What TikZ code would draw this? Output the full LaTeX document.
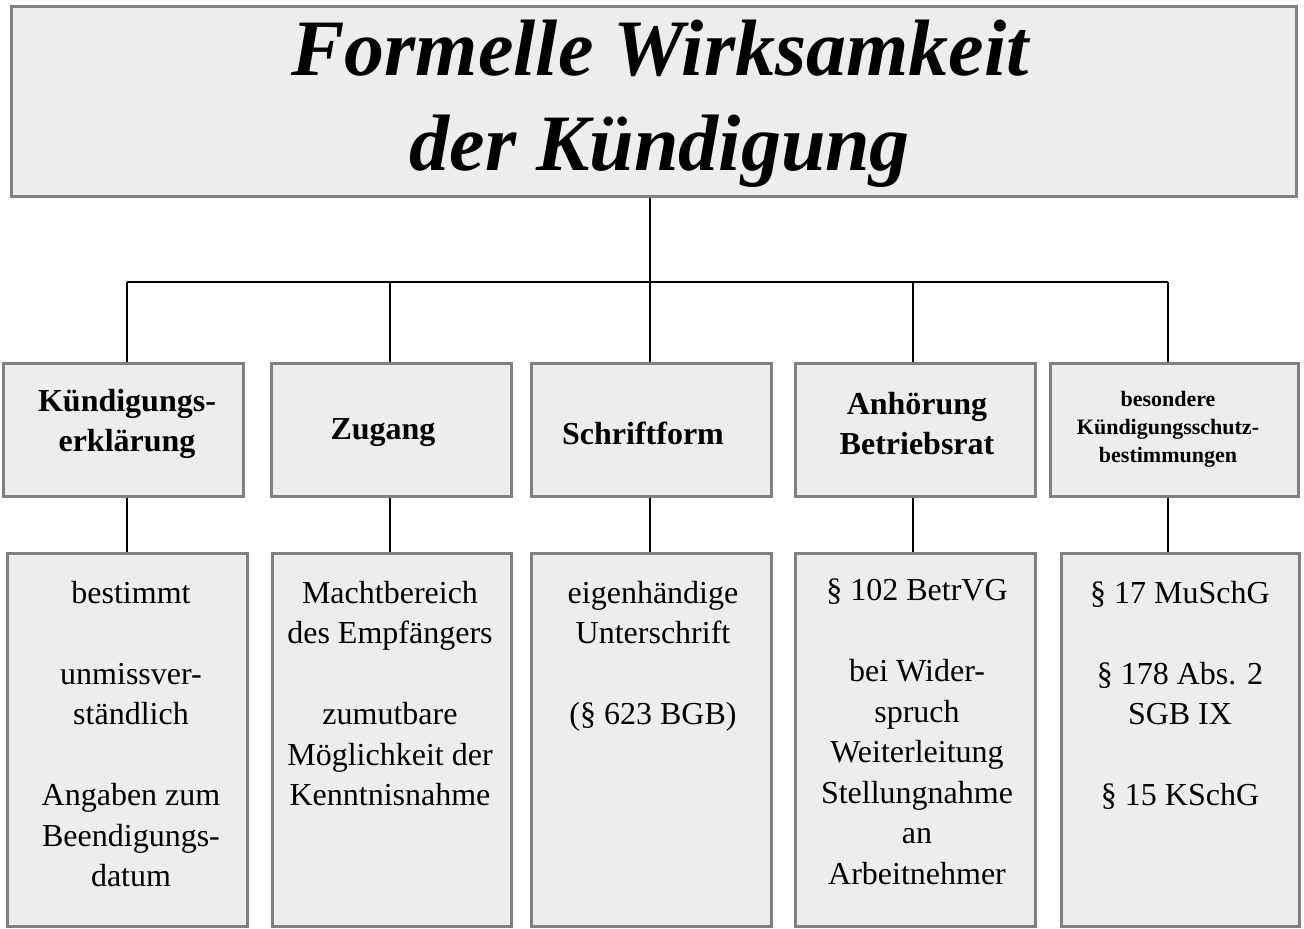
\documentclass[tikz,border=0pt]{standalone}
\usepackage{fontspec}
\setmainfont{Liberation Serif}
\begin{document}
\begin{tikzpicture}[x=1pt,y=-1pt,
  box/.style={draw=black!50,line width=2.5pt,fill=black!7,anchor=north west,inner sep=0pt},
  head/.style={font=\fontsize{32}{40}\selectfont\bfseries,align=center},
  body/.style={font=\fontsize{32}{40.5}\selectfont,align=center,anchor=north,inner sep=0pt},
  conn/.style={line width=2.4pt}]
\useasboundingbox (0,0) rectangle (1304,929);
\node[box,minimum width=1285pt,minimum height=190pt] (t) at (10,5) {};
\node[font=\fontsize{80}{95}\selectfont\bfseries\itshape,align=center] (tt) at (660,104) {Formelle Wirksamkeit\\der Kündigung};
% row 1
\node[box,minimum width=240pt,minimum height=133pt] (a1) at (2,362) {};
\node[box,minimum width=240pt,minimum height=133pt] (a2) at (270,362) {};
\node[box,minimum width=240pt,minimum height=133pt] (a3) at (530,362) {};
\node[box,minimum width=240pt,minimum height=133pt] (a4) at (794,362) {};
\node[box,minimum width=248pt,minimum height=133pt] (a5) at (1049,362) {};
\node[head] (h1) at (127,424) {Kündigungs-\\erklärung};
\node[head] (h2) at (383,433) {Zugang};
\node[head] (h3) at (643,433) {Schriftform};
\node[head] (h4) at (917,424) {Anhörung\\Betriebsrat};
\node[head,font=\fontsize{22}{28}\selectfont\bfseries] (h5) at (1168,429) {besondere\\Kündigungsschutz-\\bestimmungen};
% row 2
\node[box,minimum width=240pt,minimum height=373pt] (b1) at (6,552) {};
\node[box,minimum width=239pt,minimum height=373pt] (b2) at (271,552) {};
\node[box,minimum width=240pt,minimum height=373pt] (b3) at (530,552) {};
\node[box,minimum width=240pt,minimum height=373pt] (b4) at (794,552) {};
\node[box,minimum width=238pt,minimum height=373pt] (b5) at (1060,552) {};
\node[body] (c1) at (131,581) {bestimmt\\\mbox{}\\unmissver-\\ständlich\\\mbox{}\\Angaben zum\\Beendigungs-\\datum};
\node[body] (c2) at (390,581) {Machtbereich\\des Empfängers\\\mbox{}\\zumutbare\\Möglichkeit der\\Kenntnisnahme};
\node[body] (c3) at (653,581) {eigenhändige\\Unterschrift\\\mbox{}\\(§ 623 BGB)};
\node[body] (c4) at (917,579) {§ 102 BetrVG\\\mbox{}\\bei Wider-\\spruch\\Weiterleitung\\Stellungnahme\\an\\Arbeitnehmer};
\node[body] (c5) at (1180,581) {§ 17 MuSchG\\\mbox{}\\§ 178 Abs. 2\\SGB IX\\\mbox{}\\§ 15 KSchG};
% connectors
\coordinate (j) at (650,282);
\draw[conn] (t.south -| j) -- (j);
\draw[conn] (127,282) -- (1168,282);
\draw[conn] (127,282) -- (a1.north -| 127,0);
\draw[conn] (390,282) -- (a2.north -| 390,0);
\draw[conn] (650,282) -- (a3.north -| 650,0);
\draw[conn] (913,282) -- (a4.north -| 913,0);
\draw[conn] (1168,282) -- (a5.north -| 1168,0);
\draw[conn] (a1.south -| 127,0) -- (b1.north -| 127,0);
\draw[conn] (a2.south -| 390,0) -- (b2.north -| 390,0);
\draw[conn] (a3.south -| 650,0) -- (b3.north -| 650,0);
\draw[conn] (a4.south -| 913,0) -- (b4.north -| 913,0);
\draw[conn] (a5.south -| 1168,0) -- (b5.north -| 1168,0);
\end{tikzpicture}
\end{document}
